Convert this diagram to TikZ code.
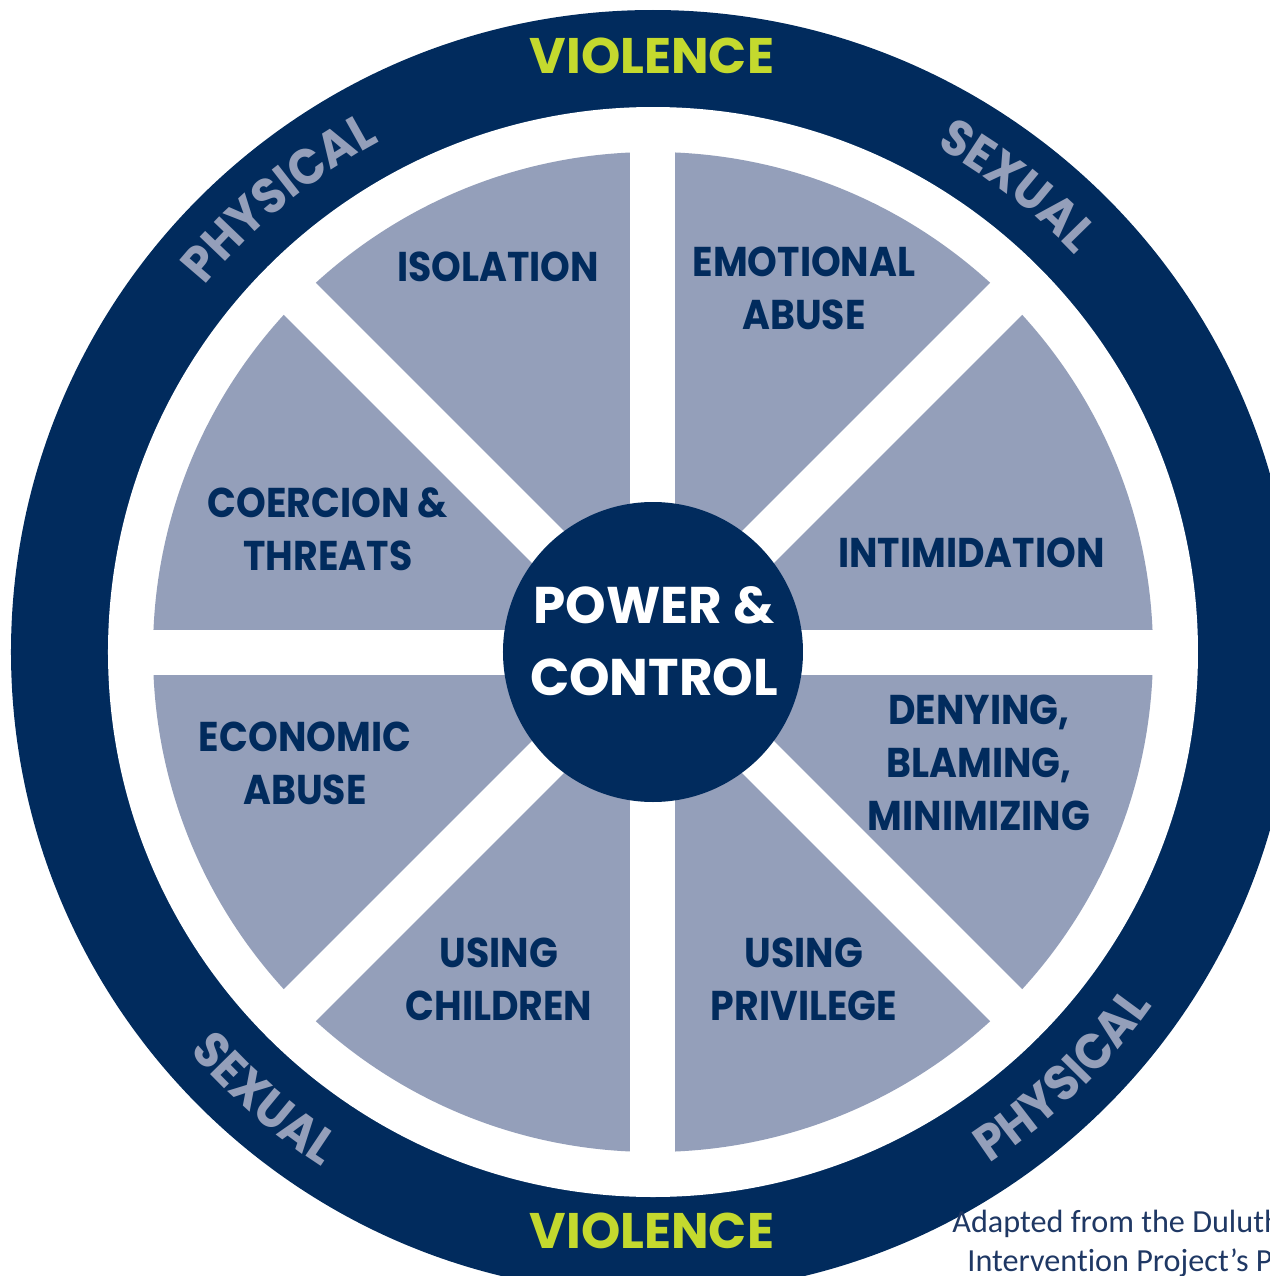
\documentclass[tikz,border=0pt]{standalone}
\usepackage{fontspec}
\setmainfont{Poppins}
\newfontfamily\labelfont{Poppins}[FakeStretch=0.91]
\newfontfamily\arcfont{Poppins}[FakeStretch=0.93]
\newfontfamily\footfont{Carlito}[Ligatures=NoCommon]
\usetikzlibrary{decorations.text}
\definecolor{navy}{HTML}{012B5D}
\definecolor{slate}{HTML}{949FBA}
\definecolor{lime}{HTML}{C4D92E}
\definecolor{footblue}{HTML}{1F3864}
\newcommand{\curvefont}{\arcfont\bfseries\fontsize{25}{30}\selectfont}
\begin{document}
\begin{tikzpicture}[x=0.5pt,y=0.5pt,
  lbl/.style={font=\labelfont\bfseries\fontsize{20.8}{26.5}\selectfont, text=navy, align=center, inner sep=0},
  hubtext/.style={font=\bfseries\fontsize{25.8}{36}\selectfont, text=white, align=center, inner sep=0},
  ringtext/.style={font=\bfseries\fontsize{25}{30}\selectfont, text=lime, inner sep=0},
  foottext/.style={font=\footfont\fontsize{16.1}{19.75}\selectfont, text=footblue, inner sep=0, anchor=base west},
  curved/.style={decorate, decoration={text along path, text align=center, text color=slate, text={|\curvefont|#1}}}
]
\useasboundingbox (-653,-624) rectangle (617,652);
\clip (-653,-624) rectangle (617,652);
% rings
\fill[navy] (0,0) circle[radius=642];
\fill[white] (0,0) circle[radius=545];
\fill[slate] (0,0) circle[radius=500];
\foreach \a in {0,45,90,135}
  \draw[white, line width=22.5pt] (\a:510) -- (\a+180:510);
\node[circle, fill=navy, minimum size=150pt, inner sep=0] (hub) at (0,0) {};
\node[hubtext] (pc) at (1,11) {POWER \&\\CONTROL};
% sector labels
\node[lbl] (iso) at (-155,385) {ISOLATION};
\node[lbl] (emo) at (151,363.5) {EMOTIONAL\\ABUSE};
\node[lbl] (inti) at (318.5,99) {INTIMIDATION};
\node[lbl] (coer) at (-325,122.5) {COERCION \&\\THREATS};
\node[lbl] (eco) at (-348,-111.5) {ECONOMIC\\ABUSE};
\node[lbl] (child) at (-154,-327.5) {USING\\CHILDREN};
\node[lbl] (priv) at (151,-327.5) {USING\\PRIVILEGE};
\node[lbl] (deny) at (326,-111) {DENYING,\\BLAMING,\\MINIMIZING};
% ring labels
\node[ringtext] (vtop) at (-1,596.5) {VIOLENCE};
\node[ringtext] (vbot) at (-1,-579) {VIOLENCE};
\path[curved=PHYSICAL] (159.5:579) arc[start angle=159.5, end angle=99.5, radius=579];
\path[curved=SEXUAL] (82:579) arc[start angle=82, end angle=22, radius=579];
\path[curved=PHYSICAL] (-76:612) arc[start angle=-76, end angle=-16, radius=612];
\path[curved=SEXUAL] (199:612) arc[start angle=199, end angle=259, radius=612];
% footer
\node[foottext] (f1) at (299,-580) {Adapted from the Duluth};
\node[foottext] (f2) at (314,-619) {Intervention Project’s P};
\end{tikzpicture}
\end{document}
